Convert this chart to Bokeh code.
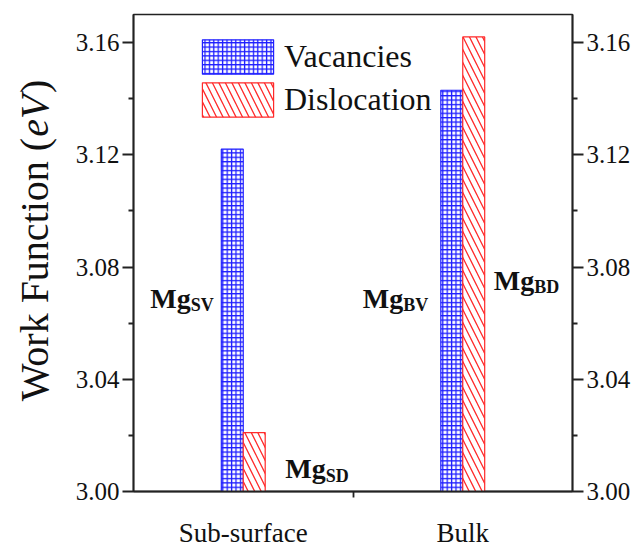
import math
from bokeh.plotting import figure
from bokeh.layouts import row
from bokeh.models import (ColumnDataSource, Range1d, LinearAxis, FixedTicker,
                          Label, Legend, LegendItem, NumeralTickFormatter)
from bokeh.core.properties import value
from bokeh.embed import file_html
from bokeh.resources import INLINE

# ---- data -------------------------------------------------------------
categories = ["Sub-surface", "Bulk"]
vacancies = [3.122, 3.143]
dislocation = [3.021, 3.162]
y_ticks = [3.00, 3.04, 3.08, 3.12, 3.16]
y_minor = [3.02, 3.06, 3.10, 3.14]
series_names = ["Vacancies", "Dislocation"]

SERIF = "'Liberation Serif'"
BLUE = "#1f1fff"
RED = "#ff2a2a"
AXIS = "#222222"
INK = "#111111"

Y0, Y1 = 3.0, 3.17
TOP, BOTTOM, H = 14, 55, 550
TITLE_W = 70

cat_x = [1 + 2 * i for i in range(len(categories))]
bar_w = 0.2

p = figure(width=639 - TITLE_W, height=H, x_range=Range1d(0, 4), y_range=Range1d(Y0, Y1),
           x_axis_type=None, y_axis_type=None, output_backend="svg",
           toolbar_location=None, min_border_left=133 - TITLE_W, min_border_right=67,
           min_border_top=TOP, min_border_bottom=BOTTOM)
p.outline_line_color = AXIS
p.outline_line_width = 1.6

src_v = ColumnDataSource(dict(x=[c - bar_w / 2 for c in cat_x], top=vacancies))
src_d = ColumnDataSource(dict(x=[c + bar_w / 2 for c in cat_x], top=dislocation))

r_v = p.vbar(x="x", top="top", bottom=Y0, width=bar_w, source=src_v,
             fill_color="white", line_color=BLUE, line_width=1.2,
             hatch_pattern="+", hatch_color=BLUE, hatch_scale=4.4, hatch_weight=1.3)
r_d = p.vbar(x="x", top="top", bottom=Y0, width=bar_w, source=src_d,
             fill_color="white", line_color=RED, line_width=1.2,
             hatch_pattern="\\", hatch_color=RED, hatch_scale=13, hatch_weight=1.3)

# ---- Mg_xx annotations -----------------------------------------------------
mg_labels = [
    # subscript, anchor x (data), baseline y (data), x offset of "M" (px)
    ("SV", 0.8, 3.0689, -71),
    ("SD", 1.2, 3.0081, 20),
    ("BV", 2.8, 3.0689, -78),
    ("BD", 3.2, 3.0752, 9),
]
mg_fs = 28
sub_fs = 18
for sub, ax_, ay, xo in mg_labels:
    p.add_layout(Label(x=ax_, y=ay, x_offset=xo, text="Mg", text_font=SERIF,
                       text_font_style="bold", text_font_size=f"{mg_fs}px",
                       text_color=INK, text_baseline="alphabetic"))
    p.add_layout(Label(x=ax_, y=ay, x_offset=xo + 1.444 * mg_fs, y_offset=-7,
                       text=sub, text_font=SERIF, text_font_style="bold",
                       text_font_size=f"{sub_fs}px", text_color=INK,
                       text_baseline="alphabetic"))

# ---- legend ---------------------------------------------------------------
legend = Legend(items=[LegendItem(label=series_names[0], renderers=[r_v]),
                       LegendItem(label=series_names[1], renderers=[r_d])],
                location=(60, 370), glyph_width=89, glyph_height=43, label_height=43,
                spacing=0, padding=0, margin=0, label_standoff=2,
                label_text_font=SERIF, label_text_font_size="32px",
                label_text_color=INK, border_line_alpha=0,
                background_fill_alpha=0)
p.add_layout(legend, "center")

# ---- axes ---------------------------------------------------------------
def value_axis(side):
    ax = LinearAxis(ticker=FixedTicker(ticks=y_ticks, minor_ticks=y_minor))
    ax.formatter = NumeralTickFormatter(format="0.00")
    ax.major_label_text_font = SERIF
    ax.major_label_text_font_size = "25px"
    ax.major_label_text_color = INK
    ax.axis_line_color = AXIS
    ax.axis_line_width = 1.8
    ax.major_tick_line_color = AXIS
    ax.major_tick_line_width = 1.8
    ax.minor_tick_line_color = AXIS
    ax.minor_tick_line_width = 1.8
    ax.major_tick_in = 0
    ax.major_tick_out = 11
    ax.minor_tick_in = 0
    ax.minor_tick_out = 5
    ax.major_label_standoff = 3
    p.add_layout(ax, side)
    return ax

value_axis("left")
value_axis("right")

xa = LinearAxis(ticker=FixedTicker(ticks=cat_x, minor_ticks=[2]))
xa.major_label_overrides = {c: name for c, name in zip(cat_x, categories)}
xa.major_label_text_font = SERIF
xa.major_label_text_font_size = "27px"
xa.major_label_text_color = INK
xa.axis_line_color = AXIS
xa.axis_line_width = 1.8
xa.major_tick_in = 0
xa.major_tick_out = 0
xa.minor_tick_in = 0
xa.minor_tick_out = 6
xa.minor_tick_line_color = AXIS
xa.minor_tick_line_width = 1.8
xa.major_label_standoff = 20
p.add_layout(xa, "below")

# ---- y axis title (separate strip so it is not clipped by the frame) --------
t = figure(width=TITLE_W, height=H, x_range=Range1d(0, TITLE_W), y_range=Range1d(Y0, Y1),
           x_axis_type=None, y_axis_type=None, output_backend="svg",
           toolbar_location=None, min_border_left=0, min_border_right=0,
           min_border_top=TOP, min_border_bottom=BOTTOM)
t.outline_line_color = None

def px_to_y(sy):
    return Y1 - (sy - TOP) / (H - TOP - BOTTOM) * (Y1 - Y0)

title_fs = 40
title_x = 34
start_sy = 405          # screen y where "W" begins
split_sy = start_sy - 6.666 * title_fs   # where "(" ends
ev_w = 1.055 * title_fs
parts = [("Work Function (", "right", "normal", split_sy),
         ("eV", "left", "italic", split_sy - 1),
         (")", "left", "normal", split_sy - ev_w - 3)]
for txt, align, style, sy in parts:
    t.text(x=[title_x], y=[px_to_y(sy)], text=[txt], angle=math.pi / 2,
           text_font=value(SERIF), text_font_size=f"{title_fs}px",
           text_font_style=style, text_align=align, text_baseline="middle",
           text_color=INK)

layout = row(t, p, spacing=0)
open("out.html", "w").write(file_html(layout, INLINE))
